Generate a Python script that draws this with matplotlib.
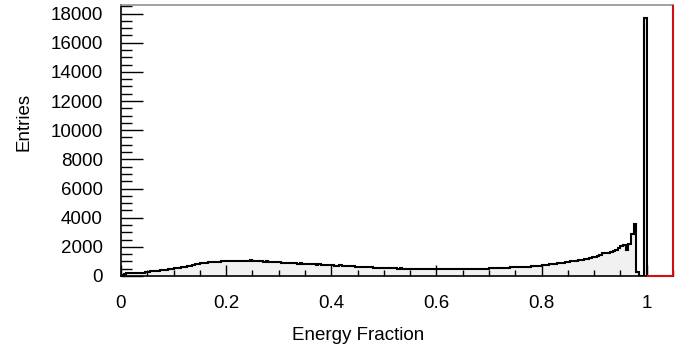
import numpy as np
import matplotlib.pyplot as plt
from matplotlib.ticker import MultipleLocator, FormatStrFormatter

plt.rcParams['font.family'] = ['Liberation Sans', 'DejaVu Sans']

# histograma da fracao de energia, bins de 0.005 entre 0 e 1
bin_lo = 0.0
bin_hi = 1.0
entries = [
    # 0.00 - 0.10
    80, 150, 180, 200, 200, 210, 220, 230, 240, 260,
    300, 310, 330, 340, 360, 380, 400, 420, 450, 480,
    # 0.10 - 0.20
    520, 550, 580, 610, 640, 680, 720, 760, 800, 830,
    860, 890, 920, 940, 960, 970, 980, 990, 1000, 1000,
    # 0.20 - 0.30
    1010, 1020, 1000, 1050, 1030, 1010, 1060, 1040, 1000, 1070,
    1020, 1010, 1050, 1000, 990, 1000, 970, 960, 950, 940,
    # 0.30 - 0.40
    930, 900, 920, 890, 880, 900, 870, 850, 860, 840,
    820, 830, 800, 790, 780, 800, 770, 760, 750, 740,
    # 0.40 - 0.50
    740, 720, 700, 730, 690, 680, 700, 670, 660, 650,
    640, 630, 620, 640, 600, 590, 580, 570, 560, 550,
    # 0.50 - 0.60
    550, 540, 530, 540, 520, 510, 530, 500, 500, 490,
    500, 480, 490, 480, 470, 480, 470, 460, 470, 460,
    # 0.60 - 0.70
    460, 470, 460, 450, 460, 470, 460, 450, 460, 470,
    460, 470, 480, 470, 480, 490, 480, 500, 490, 500,
    # 0.70 - 0.80
    520, 560, 540, 580, 560, 560, 580, 570, 600, 600,
    620, 600, 630, 620, 640, 650, 660, 680, 700, 720,
    # 0.80 - 0.90
    740, 760, 780, 800, 820, 850, 880, 900, 920, 950,
    980, 1000, 1030, 1060, 1100, 1130, 1160, 1200, 1240, 1280,
    # 0.90 - 1.00
    1300, 1350, 1450, 1550, 1600, 1580, 1650, 1700, 1800, 1950,
    2050, 2150, 1800, 2200, 2900, 3550, 300, 30, 0, 17700,
]
# faixa em vermelho (acima de 1)
red_lo = 1.0
red_hi = 1.05

entries = np.array(entries, dtype=float)
edges = np.linspace(bin_lo, bin_hi, len(entries) + 1)
ymax = entries.max() * 1.05

fig = plt.figure(figsize=(6.83, 3.48), dpi=100)
ax = fig.add_axes([121 / 683, 1 - 276 / 348, 552 / 683, 271 / 348])

ax.stairs(entries, edges, fill=True, color='#f1f1f1', zorder=1)
ax.stairs(entries, edges, color='black', linewidth=1.5, zorder=2)

ax.hlines(0, red_lo, red_hi, color='#d01010', linewidth=1.5, zorder=3, clip_on=False)
ax.vlines(red_hi, 0, ymax, color='#d01010', linewidth=1.5, zorder=3, clip_on=False)

ax.set_xlim(0, red_hi)
ax.set_ylim(0, ymax)

ax.xaxis.set_major_locator(MultipleLocator(0.2))
ax.xaxis.set_minor_locator(MultipleLocator(0.05))
ax.xaxis.set_major_formatter(FormatStrFormatter('%g'))
ax.yaxis.set_major_locator(MultipleLocator(2000))
ax.yaxis.set_minor_locator(MultipleLocator(500))

ax.tick_params(axis='both', which='both', direction='in', colors='black', labelsize=13.5)
ax.tick_params(axis='x', which='major', length=8, width=1, pad=14)
ax.tick_params(axis='x', which='minor', length=4, width=1)
ax.tick_params(axis='y', which='major', length=16, width=1, pad=13)
ax.tick_params(axis='y', which='minor', length=8, width=1)
ax.tick_params(top=False, right=False, which='both')

for lado in ['left', 'bottom']:
    ax.spines[lado].set_color('black')
    ax.spines[lado].set_linewidth(1.2)
for lado in ['top', 'right']:
    ax.spines[lado].set_color('#909090')
    ax.spines[lado].set_linewidth(1.2)

ax.set_xlabel('Energy Fraction', fontsize=13.5)
ax.set_ylabel('Entries', fontsize=13.5)
ax.xaxis.set_label_coords(237 / 552, -0.19)
ax.yaxis.set_label_coords(-0.16, 0.568)

fig.savefig('out.png', dpi=100)
